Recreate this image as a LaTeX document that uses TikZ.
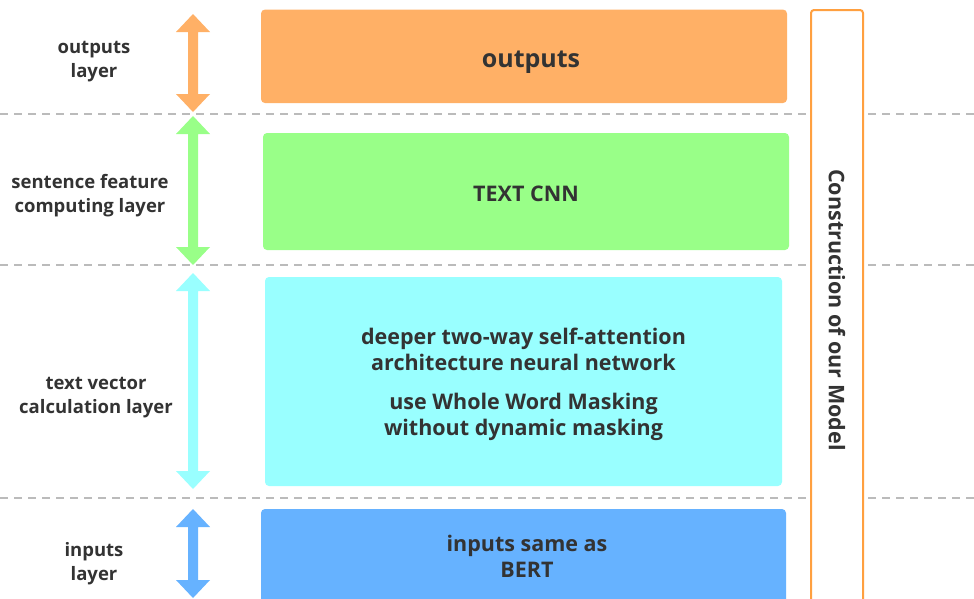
\documentclass[tikz,border=0pt]{standalone}
\usepackage{fontspec}
\setmainfont{Open Sans}
\definecolor{outfill}{HTML}{FFB066}
\definecolor{cnnfill}{HTML}{99FF88}
\definecolor{bertfill}{HTML}{99FFFF}
\definecolor{infill}{HTML}{66B2FF}
\definecolor{frameorange}{HTML}{FFA040}
\definecolor{sepgray}{HTML}{BBBBBB}
\definecolor{inktext}{HTML}{333333}
\tikzset{
  layerbox/.style={rectangle, rounded corners=4pt, draw=none, inner sep=0pt},
  boxtext/.style={align=center, text=inktext,
    font=\bfseries\fontsize{21.5}{26}\selectfont, inner sep=0pt},
  layerlabel/.style={align=center, text=inktext,
    font=\bfseries\fontsize{18.5}{24}\selectfont, inner sep=0pt},
  separator/.style={draw=sepgray, line width=1.6pt, dash pattern=on 8pt off 6pt},
  modelframe/.style={rectangle, rounded corners=3pt, draw=frameorange,
    line width=2pt, fill=white, minimum width=52pt, minimum height=600pt}
}
% double-headed block arrow: centre x, top tip y, bottom tip y, colour
\newcommand\layerarrow[4]{%
  \fill[#4] (#1-5,#2+18) -- (#1-17,#2+18) -- (#1,#2) -- (#1+17,#2+18)
    -- (#1+5,#2+18) -- (#1+5,#3-18) -- (#1+17,#3-18) -- (#1,#3)
    -- (#1-17,#3-18) -- (#1-5,#3-18) -- cycle;}
\begin{document}
\begin{tikzpicture}[x=1pt,y=-1pt]
\useasboundingbox (0,0) rectangle (974,598);
\fill[white] (0,0) rectangle (974,598);

% layer separators
\coordinate (s1l) at (0,114);   \coordinate (s1r) at (974,114);
\coordinate (s2l) at (0,265);   \coordinate (s2r) at (974,265);
\coordinate (s3l) at (0,498);   \coordinate (s3r) at (974,498);
\draw[separator] (s1l) -- (s1r);
\draw[separator] (s2l) -- (s2r);
\draw[separator] (s3l) -- (s3r);

% extent arrows of each layer
\layerarrow{193}{14}{112}{outfill}
\layerarrow{193}{116}{265}{cnnfill}
\layerarrow{193}{273}{489}{bertfill}
\layerarrow{193}{509}{598}{infill}

% layer names
\node[layerlabel] (lout) at (94,62) {outputs\\layer};
\node[layerlabel] (lcnn) at (90,196) {sentence feature\\computing layer};
\node[layerlabel] (lbert) at (96,398) {text vector\\calculation layer};
\node[layerlabel] (lin) at (94,564) {inputs\\layer};

% layer boxes
\node[layerbox, fill=outfill, minimum width=526pt, minimum height=93.5pt]
  (outputs) at (524,56.3) {};
\node[layerbox, fill=cnnfill, minimum width=526pt, minimum height=117pt]
  (cnn) at (526,191.5) {};
\node[layerbox, fill=bertfill, minimum width=517pt, minimum height=209pt]
  (bert) at (523.5,381.5) {};
\node[layerbox, fill=infill, minimum width=525pt, minimum height=97pt]
  (inputs) at (523.5,557.5) {};

% box contents
\node[boxtext, font=\bfseries\fontsize{25}{28}\selectfont]
  (outtxt) at (531,62) {outputs};
\node[boxtext] (cnntxt) at (526,194) {TEXT CNN};
\node[boxtext] (berttxt) at (523.5,384.5)
  {deeper two-way self-attention\\architecture neural network\\[13pt]use Whole Word Masking\\without dynamic masking};
\node[boxtext] (intxt) at (527,556.5) {inputs same as\\BERT};

% model frame with vertical title
\node[modelframe] (frame) at (837,310) {};
\node[rotate=-90, text=inktext, font=\bfseries\fontsize{21.5}{24}\selectfont,
  inner sep=0pt] (title) at (frame.center) {Construction of our Model};
\end{tikzpicture}
\end{document}
